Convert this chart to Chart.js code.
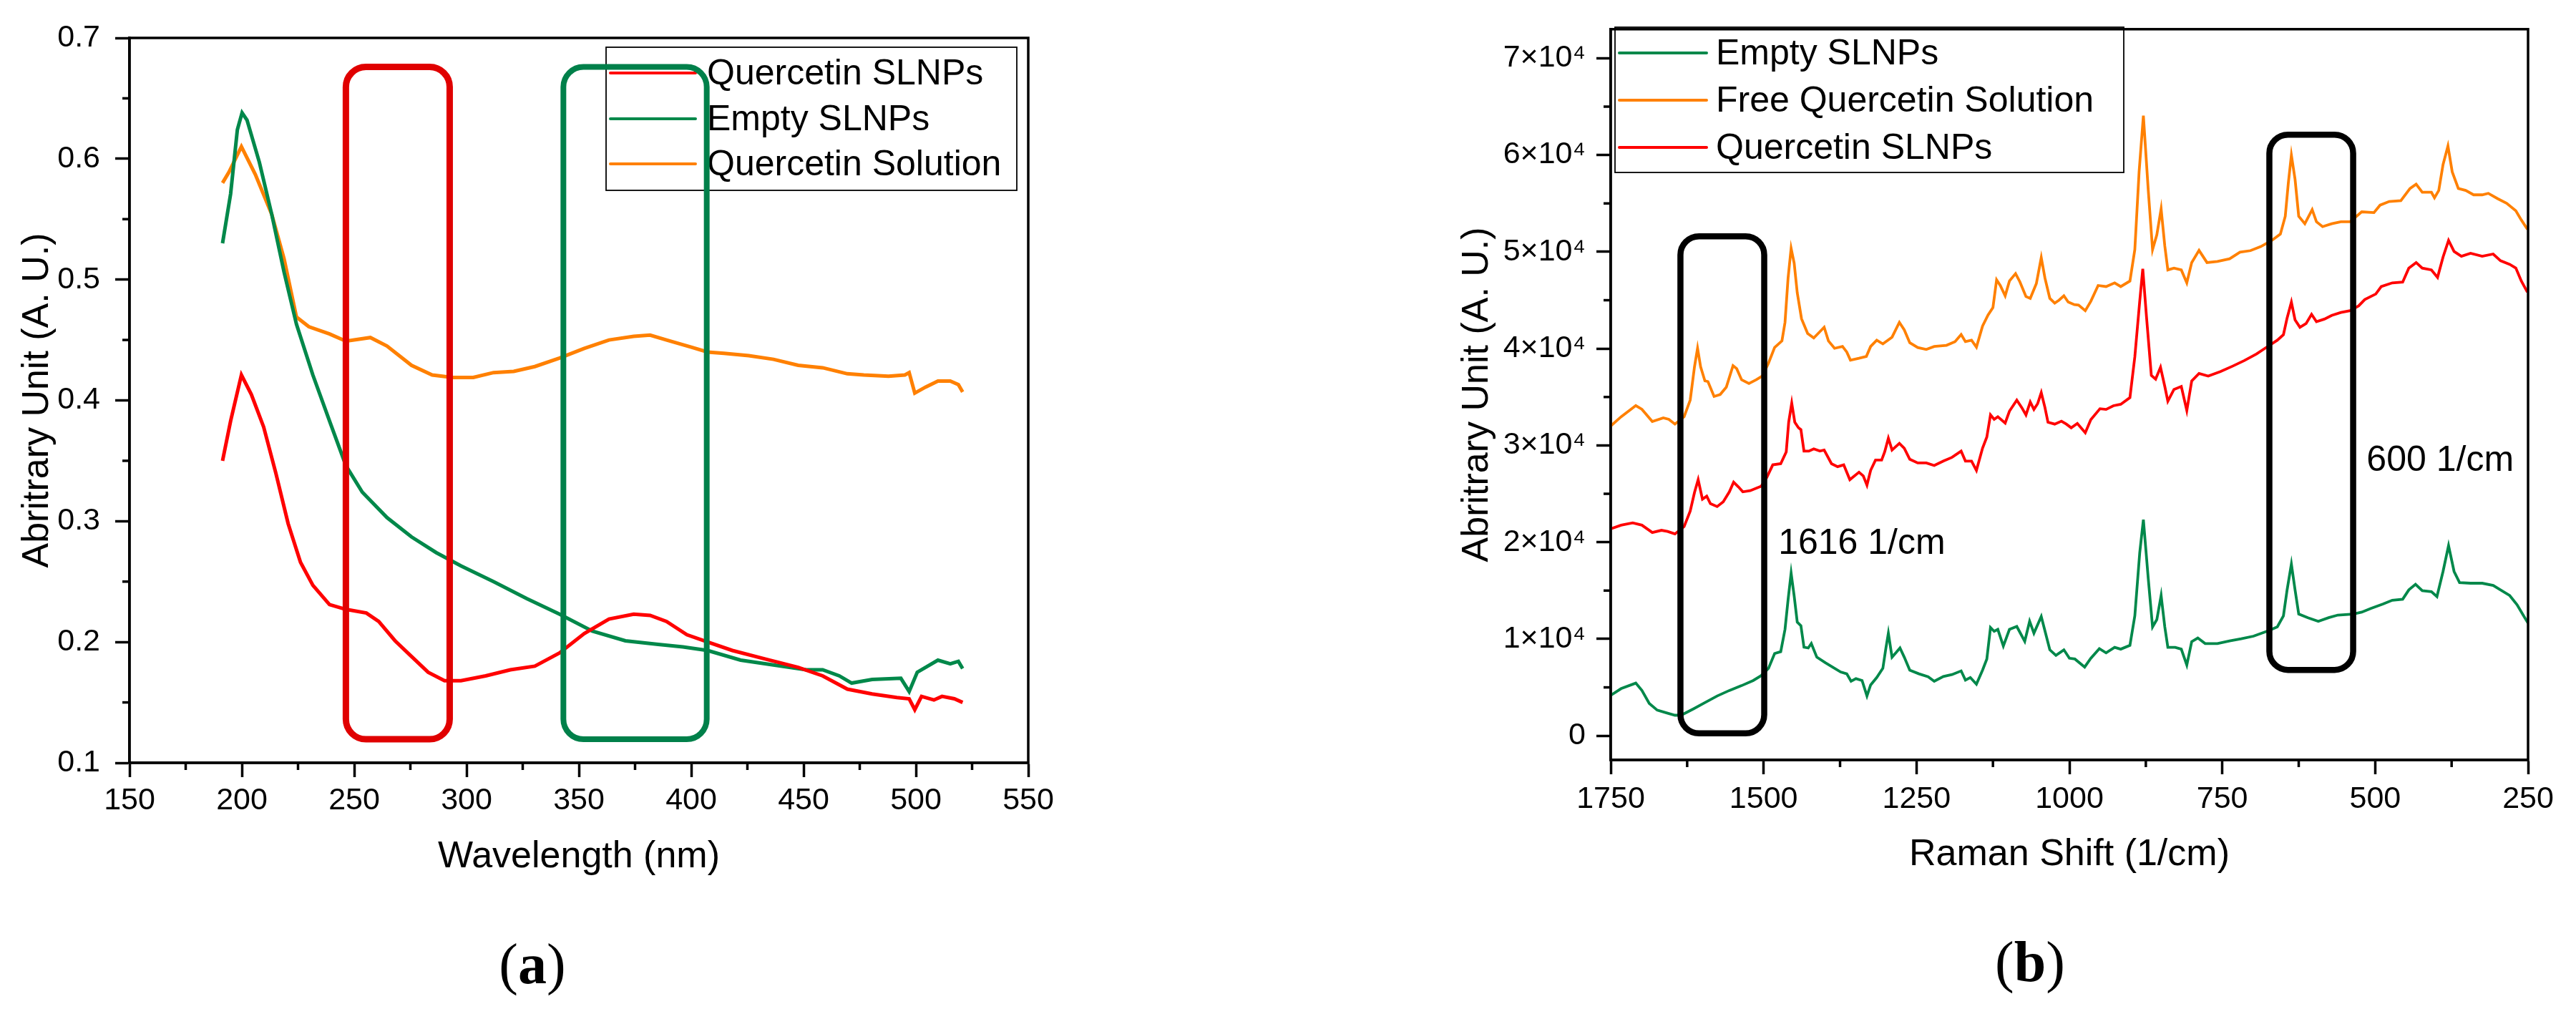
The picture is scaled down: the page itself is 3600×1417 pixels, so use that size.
<!DOCTYPE html>
<html>
<head>
<meta charset="utf-8">
<script src="https://cdn.jsdelivr.net/npm/chart.js@4.4.1/dist/chart.umd.min.js"></script>
<style>
  html, body { margin: 0; padding: 0; background: #fff; }
  #wrap { position: relative; width: 3600px; height: 1417px; overflow: hidden; background: #fff; }
  canvas { position: absolute; top: 0; }
  #uv-chart { left: 0; }
  #raman-chart { left: 1800px; }
  .panel-label {
    position: absolute; transform: translate(-50%, -50%);
    font-family: "Liberation Serif", "Times New Roman", serif; font-size: 80px; color: #000;
  }
</style>
</head>
<body>
<div id="wrap">
  <canvas id="uv-chart" width="1800" height="1417"></canvas>
  <canvas id="raman-chart" width="1800" height="1417"></canvas>
  <div class="panel-label" style="left:744px; top:1347px">(<b>a</b>)</div>
  <div class="panel-label" style="left:2837px; top:1344px">(<b>b</b>)</div>
</div>
<script>
const FONT = '"Liberation Sans", Arial, sans-serif';
const RED = '#FF0000';
const GREEN = '#00884A';
const ORANGE = '#FF8000';

// ---- (a) UV-Vis data ----
const uvTickX = [150, 200, 250, 300, 350, 400, 450, 500, 550];
const uvTickY = [0.1, 0.2, 0.3, 0.4, 0.5, 0.6, 0.7];

const qSlnpUvX = [191.4, 195, 199.8, 204.2, 209.7, 215.1, 220.6, 226.1, 231.6, 239, 246.3, 255.4, 260.9, 268.2, 275.5, 282.9, 290.2, 297.5, 308.5, 319.5, 330.4, 341.4, 352.4, 363.4, 374.4, 381.7, 389, 398.1, 407.3, 418.3, 432.9, 447.6, 458.5, 469.5, 480.5, 491.5, 497, 499.5, 502.5, 508, 511.6, 517.1, 520.8];
const qSlnpUvY = [0.350, 0.383, 0.421, 0.405, 0.378, 0.340, 0.298, 0.266, 0.247, 0.231, 0.227, 0.224, 0.217, 0.201, 0.188, 0.175, 0.168, 0.168, 0.172, 0.177, 0.180, 0.191, 0.207, 0.219, 0.223, 0.222, 0.217, 0.206, 0.200, 0.193, 0.186, 0.179, 0.172, 0.161, 0.157, 0.154, 0.153, 0.144, 0.155, 0.152, 0.155, 0.153, 0.150];

const emptyUvX = [191.4, 195, 198, 200.1, 202.3, 207.8, 213.3, 218.8, 224.3, 231.6, 239, 246.3, 253.6, 264.6, 275.5, 286.5, 297.5, 312, 326.8, 341.4, 356, 370.7, 385.3, 396.3, 407.3, 422, 436.6, 451.2, 458.5, 465.9, 471.4, 480.5, 493.3, 497, 500.6, 509.8, 515.3, 518.9, 520.8];
const emptyUvY = [0.530, 0.571, 0.624, 0.638, 0.632, 0.597, 0.554, 0.506, 0.463, 0.421, 0.383, 0.346, 0.324, 0.303, 0.287, 0.274, 0.263, 0.250, 0.236, 0.223, 0.209, 0.201, 0.198, 0.196, 0.193, 0.185, 0.181, 0.177, 0.177, 0.172, 0.166, 0.169, 0.170, 0.159, 0.175, 0.185, 0.182, 0.184, 0.178];

const solUvX = [191.4, 194.3, 199.8, 206, 213.3, 218.8, 224.3, 229.8, 239, 246.3, 257.2, 264.6, 275.5, 284.7, 293.8, 303, 312, 321, 330.4, 341.4, 352.4, 363.4, 374.4, 381.7, 389, 400, 407.3, 414.6, 425.6, 436.6, 447.6, 458.5, 469.5, 476.8, 487.8, 495.1, 497, 499.5, 504.3, 509.8, 515.3, 518.9, 520.8];
const solUvY = [0.580, 0.589, 0.610, 0.587, 0.554, 0.517, 0.469, 0.461, 0.455, 0.449, 0.452, 0.445, 0.429, 0.421, 0.419, 0.419, 0.423, 0.424, 0.428, 0.435, 0.443, 0.450, 0.453, 0.454, 0.450, 0.444, 0.440, 0.439, 0.437, 0.434, 0.429, 0.427, 0.422, 0.421, 0.420, 0.421, 0.423, 0.406, 0.411, 0.416, 0.416, 0.413, 0.407];

// ---- (b) Raman data ----
const ramanTickX = [1750, 1500, 1250, 1000, 750, 500, 250];
const ramanTickY = [0, 10000, 20000, 30000, 40000, 50000, 60000, 70000];

const emptyRamanX = [1750, 1733, 1709, 1699, 1687, 1674, 1660, 1645, 1635, 1615, 1596, 1576, 1556, 1536, 1517, 1504, 1492, 1482, 1472, 1465, 1460, 1455, 1450, 1445, 1439, 1434, 1427, 1422, 1413, 1399, 1386, 1374, 1364, 1357, 1349, 1339, 1331, 1325, 1315, 1305, 1300, 1296, 1290, 1283, 1277, 1270, 1261, 1246, 1231, 1221, 1206, 1192, 1177, 1170, 1162, 1152, 1142, 1135, 1129, 1123, 1117, 1108, 1098, 1086, 1073, 1065, 1058, 1046, 1039, 1032, 1022, 1009, 1000, 991, 975, 965, 951, 940, 926, 916, 901, 893, 885, 879, 871, 864, 857, 850, 844, 839, 827, 817, 808, 800, 790, 778, 758, 738, 719, 699, 674, 660, 650, 644, 637, 631, 625, 610, 593, 576, 561, 536, 522, 507, 487, 472, 455, 445, 434, 423, 408, 399, 389, 380, 371, 362, 344, 325, 307, 295, 280, 268, 258, 250];
const emptyRamanY = [4180, 4870, 5440, 4680, 3340, 2650, 2390, 2120, 2120, 2770, 3420, 4110, 4680, 5180, 5710, 6210, 6970, 8500, 8690, 10990, 14040, 16800, 14430, 11750, 11370, 9150, 9070, 9530, 8120, 7540, 7050, 6590, 6400, 5630, 5900, 5710, 4110, 5250, 6020, 6970, 9070, 10600, 8120, 8620, 9070, 8120, 6780, 6400, 6090, 5630, 6130, 6320, 6700, 5750, 6020, 5330, 6780, 7930, 11180, 10790, 10990, 9270, 10990, 11290, 9760, 11830, 10600, 12320, 10600, 8880, 8310, 8880, 8010, 7930, 7100, 8000, 9000, 8570, 9140, 8950, 9340, 12390, 18890, 22330, 16210, 11250, 12010, 14490, 11250, 9140, 9140, 8950, 7300, 9720, 10100, 9530, 9530, 9800, 10020, 10290, 10860, 11250, 12390, 15070, 17740, 15070, 12580, 12200, 11820, 12200, 12470, 12580, 12770, 13160, 13610, 14000, 14110, 15070, 15640, 14990, 14880, 14380, 16980, 19650, 16980, 15830, 15760, 15760, 15530, 15070, 14490, 13540, 12470, 11630];

const freeQRamanX = [1750, 1733, 1709, 1699, 1682, 1664, 1655, 1645, 1630, 1620, 1613, 1608, 1603, 1596, 1591, 1581, 1571, 1561, 1550, 1544, 1536, 1524, 1512, 1502, 1492, 1482, 1470, 1465, 1460, 1455, 1450, 1445, 1438, 1428, 1418, 1408, 1401, 1394, 1384, 1371, 1364, 1358, 1344, 1332, 1325, 1315, 1305, 1290, 1278, 1270, 1261, 1248, 1234, 1221, 1201, 1187, 1177, 1170, 1160, 1152, 1142, 1133, 1125, 1119, 1113, 1105, 1098, 1088, 1081, 1071, 1064, 1054, 1046, 1040, 1032, 1024, 1017, 1009, 1002, 992, 985, 974, 965, 953, 940, 926, 916, 901, 893, 886, 879, 871, 864, 857, 850, 844, 839, 829, 817, 808, 800, 788, 775, 758, 738, 721, 704, 687, 669, 655, 647, 642, 637, 631, 625, 615, 603, 596, 586, 571, 556, 541, 522, 502, 492, 477, 458, 443, 433, 423, 408, 403, 396, 389, 381, 374, 364, 352, 339, 325, 315, 300, 285, 270, 261, 251];
const freeQRamanY = [32000, 32960, 34110, 33730, 32470, 32850, 32700, 32200, 32960, 34680, 38120, 40030, 38120, 36670, 36590, 35060, 35260, 36020, 38240, 37930, 36780, 36400, 36780, 37170, 38500, 40110, 40800, 42710, 47290, 50350, 48820, 45770, 43090, 41560, 41100, 41750, 42210, 40800, 40030, 40220, 39650, 38810, 39000, 39190, 40220, 40870, 40490, 41180, 42710, 41940, 40610, 40110, 39920, 40220, 40340, 40720, 41450, 40720, 40870, 40150, 42330, 43470, 44240, 47100, 46530, 45460, 46990, 47750, 46910, 45380, 45190, 46720, 49400, 47300, 45190, 44700, 45000, 45460, 44810, 44540, 44500, 43920, 44880, 46520, 46410, 46790, 46410, 46980, 50230, 58260, 64060, 56340, 50230, 51760, 54430, 50610, 48130, 48320, 48130, 46790, 48890, 50150, 48890, 49010, 49280, 49960, 50120, 50540, 51180, 51830, 53670, 57110, 59980, 57490, 53670, 52900, 54360, 53100, 52600, 52900, 53100, 53100, 54130, 54050, 54820, 55200, 55280, 56540, 56990, 56150, 56150, 55580, 56340, 59020, 60930, 58260, 56540, 56340, 55890, 55890, 56040, 55500, 55010, 54240, 53290, 52330];

const qSlnpRamanX = [1750, 1733, 1714, 1699, 1682, 1667, 1657, 1645, 1630, 1620, 1613, 1607, 1600, 1593, 1587, 1576, 1566, 1556, 1549, 1541, 1534, 1522, 1504, 1495, 1485, 1472, 1463, 1459, 1454, 1449, 1443, 1439, 1434, 1426, 1418, 1408, 1401, 1389, 1379, 1369, 1359, 1344, 1337, 1331, 1325, 1317, 1307, 1302, 1296, 1290, 1278, 1270, 1261, 1248, 1234, 1221, 1206, 1192, 1177, 1170, 1160, 1152, 1142, 1135, 1129, 1123, 1117, 1105, 1098, 1086, 1078, 1071, 1064, 1058, 1052, 1046, 1040, 1035, 1024, 1013, 1005, 997, 987, 974, 965, 950, 940, 928, 916, 901, 893, 885, 880, 874, 866, 859, 851, 844, 839, 829, 817, 808, 800, 788, 773, 753, 733, 714, 694, 674, 660, 650, 644, 637, 631, 623, 613, 604, 596, 583, 571, 556, 541, 527, 517, 499, 490, 472, 455, 445, 433, 423, 408, 398, 389, 380, 371, 359, 344, 325, 307, 295, 280, 270, 261, 251];
const qSlnpRamanY = [21380, 21760, 21990, 21760, 21000, 21230, 21110, 20850, 21610, 23220, 25130, 26460, 24440, 24750, 23980, 23680, 24170, 25200, 26200, 25700, 25200, 25320, 25780, 26660, 27990, 28110, 29330, 32390, 34370, 32390, 31820, 31630, 29410, 29410, 29640, 29410, 29520, 28110, 27800, 27990, 26460, 27230, 26850, 25890, 27420, 28490, 28490, 29330, 30750, 29520, 30210, 29710, 28570, 28190, 28190, 27920, 28380, 28760, 29410, 28380, 28380, 27420, 29710, 30860, 33150, 32690, 32960, 32310, 33540, 34680, 33920, 33150, 34490, 33720, 34300, 35450, 33920, 32390, 32200, 32500, 32200, 31820, 32270, 31310, 32650, 33790, 33720, 34100, 34250, 34940, 39150, 44880, 48240, 43350, 37230, 36850, 38070, 36090, 34560, 35780, 36090, 33600, 36660, 37430, 37160, 37620, 38190, 38760, 39450, 40290, 40870, 41440, 43160, 44800, 42970, 42200, 42590, 43540, 42780, 43050, 43430, 43730, 43920, 44420, 45070, 45640, 46410, 46790, 46870, 48320, 48890, 48320, 48130, 47360, 49460, 51180, 50040, 49540, 49850, 49540, 49770, 49080, 48700, 48320, 46980, 45830];

function points(xs, ys) {
  return xs.map((x, i) => ({ x: x, y: ys[i] }));
}

function series(label, xs, ys, color, width) {
  return {
    label: label,
    data: points(xs, ys),
    borderColor: color,
    backgroundColor: color,
    borderWidth: width,
    pointRadius: 0,
    tension: 0,
    fill: false
  };
}

function roundRectPath(ctx, x0, y0, x1, y1, r) {
  const l = Math.min(x0, x1), rt = Math.max(x0, x1);
  const t = Math.min(y0, y1), b = Math.max(y0, y1);
  ctx.beginPath();
  ctx.moveTo(l + r, t);
  ctx.arcTo(rt, t, rt, b, r);
  ctx.arcTo(rt, b, l, b, r);
  ctx.arcTo(l, b, l, t, r);
  ctx.arcTo(l, t, rt, t, r);
  ctx.closePath();
}

// legend box drawn from the dataset labels / colours
const legendPlugin = {
  id: 'boxLegend',
  afterDatasetsDraw(chart, args, opts) {
    const ctx = chart.ctx;
    const [x0, y0, x1, y1] = opts.box;
    ctx.save();
    ctx.fillStyle = '#fff';
    ctx.fillRect(x0, y0, x1 - x0, y1 - y0);
    ctx.strokeStyle = '#000';
    ctx.lineWidth = 1.8;
    ctx.strokeRect(x0, y0, x1 - x0, y1 - y0);
    ctx.font = opts.fontSize + 'px ' + FONT;
    ctx.textBaseline = 'middle';
    ctx.textAlign = 'left';
    chart.data.datasets.forEach((ds, i) => {
      const y = opts.rows[i];
      ctx.strokeStyle = ds.borderColor;
      ctx.lineWidth = 4;
      ctx.lineCap = 'round';
      ctx.beginPath();
      ctx.moveTo(opts.sample[0], y);
      ctx.lineTo(opts.sample[1], y);
      ctx.stroke();
      ctx.fillStyle = '#000';
      ctx.fillText(ds.label, opts.textX, y + 2);
    });
    ctx.restore();
  }
};

// rounded highlight boxes and notes, placed in data coordinates
const overlayPlugin = {
  id: 'overlay',
  afterDatasetsDraw(chart, args, opts) {
    const ctx = chart.ctx;
    const sx = chart.scales.x, sy = chart.scales.y;
    ctx.save();
    (opts.boxes || []).forEach(b => {
      ctx.strokeStyle = b.color;
      ctx.lineWidth = b.width;
      roundRectPath(ctx, sx.getPixelForValue(b.x0), sy.getPixelForValue(b.y0),
        sx.getPixelForValue(b.x1), sy.getPixelForValue(b.y1), b.radius);
      ctx.stroke();
    });
    ctx.fillStyle = '#000';
    ctx.textAlign = 'left';
    ctx.textBaseline = 'middle';
    ctx.font = '50px ' + FONT;
    (opts.notes || []).forEach(n => {
      ctx.fillText(n.text, sx.getPixelForValue(n.x), sy.getPixelForValue(n.y));
    });
    ctx.restore();
  }
};

// frame around the plot and short minor ticks between major ones
const framePlugin = {
  id: 'frame',
  afterDraw(chart) {
    const { ctx, chartArea: a } = chart;
    ctx.save();
    ctx.strokeStyle = '#000';
    ctx.lineWidth = 3.5;
    ctx.strokeRect(a.left, a.top, a.right - a.left, a.bottom - a.top);
    ['x', 'y'].forEach(id => {
      const s = chart.scales[id];
      const vals = s.ticks.map(t => t.value);
      for (let i = 0; i < vals.length - 1; i++) {
        const p = s.getPixelForValue((vals[i] + vals[i + 1]) / 2);
        ctx.beginPath();
        if (id === 'x') { ctx.moveTo(p, a.bottom); ctx.lineTo(p, a.bottom + 10); }
        else { ctx.moveTo(a.left, p); ctx.lineTo(a.left - 10, p); }
        ctx.stroke();
      }
    });
    ctx.restore();
  }
};

function axis(tickVals, fmt, opts) {
  return {
    type: 'linear',
    min: opts.min,
    max: opts.max,
    reverse: !!opts.reverse,
    border: { display: true, color: '#000', width: 3.5 },
    grid: { display: true, drawOnChartArea: false, drawTicks: true, tickLength: 20, tickWidth: 3.5, tickColor: '#000', color: '#000' },
    ticks: { color: '#000', font: { family: FONT, size: 43 }, padding: opts.tickPad, autoSkip: false, maxRotation: 0, callback: fmt },
    title: { display: true, text: opts.title, color: '#000', font: { family: FONT, size: 52 }, padding: opts.titlePad },
    afterBuildTicks: s => { s.ticks = tickVals.map(v => ({ value: v })); },
    afterFit: opts.fit
  };
}

new Chart(document.getElementById('uv-chart'), {
  type: 'line',
  data: {
    datasets: [
      series('Quercetin SLNPs', qSlnpUvX, qSlnpUvY, RED, 5),
      series('Empty SLNPs', emptyUvX, emptyUvY, GREEN, 5),
      series('Quercetin Solution', solUvX, solUvY, ORANGE, 5)
    ]
  },
  options: {
    responsive: false,
    devicePixelRatio: 1,
    animation: false,
    layout: { padding: { left: 0, top: 53, right: 363, bottom: 0 } },
    scales: {
      x: axis(uvTickX, v => String(v), {
        min: 150, max: 550, tickPad: 7, title: 'Wavelength (nm)',
        titlePad: { top: 0, bottom: 188 }, fit: s => { s.height = 351; }
      }),
      y: axis(uvTickY, v => v.toFixed(1), {
        min: 0.1, max: 0.7, tickPad: 21, title: 'Abritrary Unit (A. U.)',
        titlePad: { top: 21, bottom: 0 }, fit: s => { s.width = 181; }
      })
    },
    plugins: {
      legend: { display: false },
      tooltip: { enabled: false },
      boxLegend: { box: [847, 66, 1421, 266], sample: [853, 972], textX: 988, rows: [102, 166, 229], fontSize: 50 },
      overlay: {
        boxes: [
          { x0: 246.3, x1: 292.5, y0: 0.1195, y1: 0.676, color: '#E00000', width: 9, radius: 28 },
          { x0: 343.1, x1: 406.9, y0: 0.1195, y1: 0.676, color: '#00804A', width: 8, radius: 28 }
        ]
      }
    }
  },
  plugins: [legendPlugin, overlayPlugin, framePlugin]
});

new Chart(document.getElementById('raman-chart'), {
  type: 'line',
  data: {
    datasets: [
      series('Empty SLNPs', emptyRamanX, emptyRamanY, GREEN, 3.8),
      series('Free Quercetin Solution', freeQRamanX, freeQRamanY, ORANGE, 3.8),
      series('Quercetin SLNPs', qSlnpRamanX, qSlnpRamanY, RED, 3.8)
    ]
  },
  options: {
    responsive: false,
    devicePixelRatio: 1,
    animation: false,
    layout: { padding: { left: 0, top: 27, right: 67, bottom: 0 } },
    scales: {
      x: axis(ramanTickX, v => String(v), {
        min: 250, max: 1750, reverse: true, tickPad: 9, title: 'Raman Shift (1/cm)',
        titlePad: { top: 0, bottom: 191 }, fit: s => { s.height = 355; }
      }),
      y: axis(ramanTickY, v => (v === 0 ? '0' : (v / 10000) + '×10⁴'), {
        min: -2500, max: 73000, tickPad: 15, title: 'Abritrary Unit (A. U.)',
        titlePad: { top: 233, bottom: 0 }, fit: s => { s.width = 451; }
      })
    },
    plugins: {
      legend: { display: false },
      tooltip: { enabled: false },
      boxLegend: { box: [457, 38, 1168, 241], sample: [463, 585], textX: 598, rows: [74, 140, 206], fontSize: 50 },
      overlay: {
        boxes: [
          { x0: 1636, x1: 1499, y0: 250, y1: 51600, color: '#000', width: 8.5, radius: 26 },
          { x0: 673, x1: 536, y0: 6800, y1: 62100, color: '#000', width: 8.5, radius: 26 }
        ],
        notes: [
          { text: '1616 1/cm', x: 1476, y: 19820 },
          { text: '600 1/cm', x: 514, y: 28380 }
        ]
      }
    }
  },
  plugins: [legendPlugin, overlayPlugin, framePlugin]
});
</script>
</body>
</html>
